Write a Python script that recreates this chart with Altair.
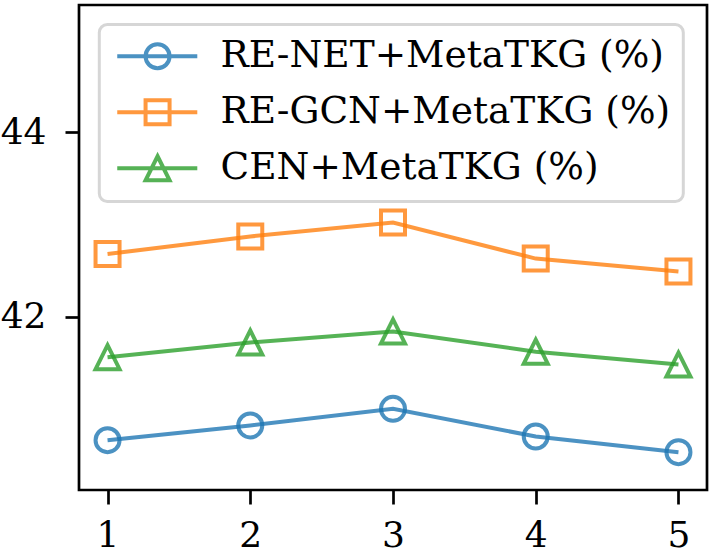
import altair as alt
import pandas as pd

# Values per step for each model variant
steps = [1, 2, 3, 4, 5]
renet = [40.66, 40.82, 41.00, 40.70, 40.53]
regcn = [42.68, 42.87, 43.02, 42.63, 42.49]
cen = [41.56, 41.72, 41.84, 41.62, 41.48]

series_names = ["RE-NET+MetaTKG (%)", "RE-GCN+MetaTKG (%)", "CEN+MetaTKG (%)"]
series_values = [renet, regcn, cen]
colors = ["#1f77b4", "#ff7f0e", "#2ca02c"]

rows = []
for name, vals in zip(series_names, series_values):
    for s, v in zip(steps, vals):
        rows.append({"step": s, "value": v, "series": name})
df = pd.DataFrame(rows)

# Marker outlines (unit square, scaled by symbol size)
circle_path = "M1,0A1,1 0 1,1 -1,0A1,1 0 1,1 1,0Z"
square_path = "M-1,-1H1V1H-1Z"
triangle_path = "M0,-1L1,1H-1Z"

# Legend keys: a short line with the marker sitting on it
key_line = "M-1.15,0H5.52"
key_circle = key_line + "M3.21,0A1,1 0 1,1 1.21,0A1,1 0 1,1 3.21,0"
key_square = key_line + "M1.21,-1H3.21V1H1.21Z"
key_triangle = key_line + "M2.21,-1L3.21,1H1.21Z"

FONT = "DejaVu Serif"

x_enc = alt.X(
    "step:Q",
    scale=alt.Scale(domain=[0.8, 5.2], nice=False, zero=False),
    axis=alt.Axis(values=steps, format="d", title=None, labelPadding=14),
)
y_enc = alt.Y(
    "value:Q",
    scale=alt.Scale(domain=[40.12, 45.38], nice=False, zero=False),
    axis=alt.Axis(values=[42, 44], format="d", title=None, labelPadding=19),
)
color_scale = alt.Scale(domain=series_names, range=colors)

lines = alt.Chart(df).mark_line(strokeWidth=4, opacity=0.8).encode(
    x=x_enc,
    y=y_enc,
    color=alt.Color("series:N", scale=color_scale, legend=None),
    detail="series:N",
)

points = alt.Chart(df).mark_point(
    filled=False, size=576, strokeWidth=4, opacity=0.8
).encode(
    x=x_enc,
    y=y_enc,
    color=alt.Color("series:N", scale=color_scale, legend=None),
    shape=alt.Shape(
        "series:N",
        scale=alt.Scale(domain=series_names, range=[circle_path, square_path, triangle_path]),
        legend=None,
    ),
)

legend = alt.Legend(
    title=None,
    orient="none",
    legendX=20.3,
    legendY=19.5,
    padding=13,
    labelFont=FONT,
    labelFontSize=37.5,
    labelColor="black",
    labelOffset=70.7,
    labelLimit=1000,
    rowPadding=15,
    symbolSize=576,
    symbolStrokeWidth=4,
    symbolOpacity=0.8,
    symbolFillColor="transparent",
    strokeColor="#d6d6d6",
    fillColor="white",
    cornerRadius=8,
)

# Legend-only layer: no rows pass the filter, the keys come from the scale domain
keys = alt.Chart(df).transform_filter("false").mark_point(
    filled=False, size=576, strokeWidth=4, opacity=0.8
).encode(
    x=x_enc,
    y=y_enc,
    color=alt.Color("series:N", scale=color_scale, sort=series_names, legend=legend),
    shape=alt.Shape(
        "series:N",
        scale=alt.Scale(domain=series_names, range=[key_circle, key_square, key_triangle]),
        sort=series_names,
        legend=legend,
    ),
)

chart = (
    alt.layer(lines, points, keys)
    .resolve_scale(shape="independent", color="independent")
    .properties(
        width=628,
        height=485,
        autosize="none",
        padding={"left": 79, "top": 5, "right": 7, "bottom": 62},
        background="white",
    )
    .configure_view(stroke="black", strokeWidth=2.7)
    .configure_legend(strokeWidth=3)
    .configure_axis(
        domain=False,
        grid=False,
        ticks=True,
        tickColor="black",
        tickWidth=2.7,
        tickSize=14,
        labelFont=FONT,
        labelFontSize=36,
        labelColor="black",
    )
)

chart.save("out.html", embed_options={"renderer": "svg", "actions": False})
